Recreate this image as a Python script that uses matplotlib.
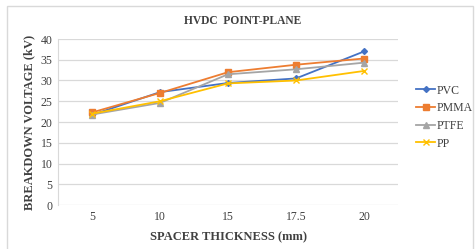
import matplotlib
matplotlib.use('Agg')
import matplotlib.pyplot as plt
from matplotlib.patches import Rectangle

thickness = ['5', '10', '15', '17.5', '20']
pvc = [21.7, 27.2, 29.4, 30.5, 37.0]
pmma = [22.3, 27.0, 32.0, 33.8, 35.3]
ptfe = [21.8, 24.6, 31.5, 32.7, 34.3]
pp = [22.0, 25.0, 29.3, 30.0, 32.3]

plt.rcParams['font.family'] = ['Liberation Serif', 'DejaVu Serif']

fig = plt.figure(figsize=(4.76, 2.49), dpi=100)
ax = fig.add_axes([58 / 476, 1 - 205 / 249, 340 / 476, 166 / 249])

x = range(len(thickness))
ax.plot(x, pvc, color='#4472C4', marker='D', markersize=3, lw=1.3, label='PVC')
ax.plot(x, pmma, color='#ED7D31', marker='s', markersize=5, lw=1.3, label='PMMA')
ax.plot(x, ptfe, color='#A5A5A5', marker='^', markersize=4, lw=1.3, label='PTFE')
ax.plot(x, pp, color='#FFC000', marker='x', markersize=5, lw=1.3, label='PP')

ax.set_xlim(-0.5, 4.5)
ax.set_ylim(0, 40)
ax.set_yticks(range(0, 41, 5))
ax.set_xticks(list(x))
ax.set_xticklabels(thickness)
ax.grid(axis='y', color='#D9D9D9', lw=0.9)
ax.set_axisbelow(True)
for s in ['top', 'right', 'bottom']:
    ax.spines[s].set_visible(False)
ax.spines['left'].set_color('#D9D9D9')
ax.tick_params(length=0, labelsize=8.5, colors='#404040', pad=4)

fig.text(243 / 476, 1 - 21 / 249, 'HVDC  POINT-PLANE', fontsize=8.3, fontweight='bold',
         color='#404040', ha='center', va='center')
ax.set_xlabel('SPACER THICKNESS (mm)', fontsize=9, fontweight='bold', color='#404040', labelpad=6)
ax.set_ylabel('BREAKDOWN VOLTAGE (kV)', fontsize=9, fontweight='bold', color='#404040', labelpad=4)

ax.legend(loc='center left', bbox_to_anchor=(1.04, 0.53), frameon=False, fontsize=8.5,
          handlelength=1.6, handletextpad=0.1, labelspacing=0.48, borderaxespad=0,
          labelcolor='#404040')

fig.patches.append(Rectangle((7 / 476, -0.02), 466 / 476, 1 - 6 / 249 + 0.02,
                             transform=fig.transFigure, fill=False, ec='#D9D9D9', lw=1))

fig.savefig('out.png', dpi=100)
